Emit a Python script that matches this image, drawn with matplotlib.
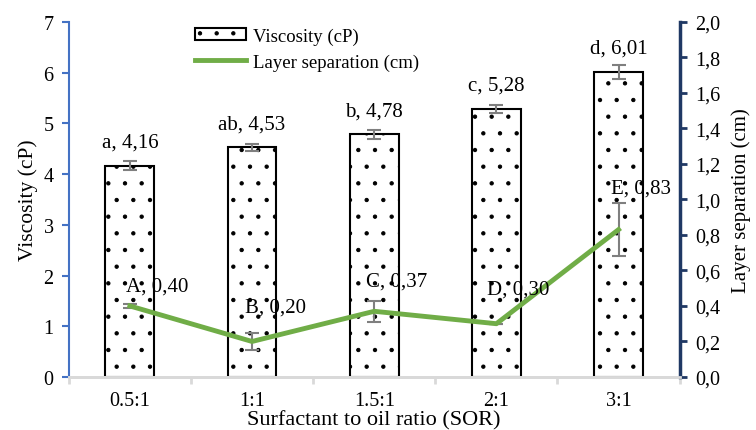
import matplotlib
matplotlib.use('Agg')
from matplotlib import pyplot as plt
import numpy as np

# data
ratios = ['0.5:1', '1:1', '1.5:1', '2:1', '3:1']
viscosity = [4.16, 4.53, 4.78, 5.28, 6.01]
viscosity_err = [0.09, 0.07, 0.08, 0.08, 0.13]
visc_letters = ['a', 'ab', 'b', 'c', 'd']
layer_sep = [0.40, 0.20, 0.37, 0.30, 0.83]
layer_sep_err = [0.01, 0.05, 0.06, 0.0, 0.15]
sep_letters = ['A', 'B', 'C', 'D', 'E']

# label offsets for the line points (points), placed by hand like in the original
sep_label_offsets = [(20, 14), (17, 25), (16, 22), (16, 25), (16, 30)]

plt.rcParams['font.family'] = ['Liberation Serif', 'DejaVu Serif']
plt.rcParams['hatch.linewidth'] = 0.7
fs = 14.5

def comma(v):
    return f'{v:.2f}'.replace('.', ',')

fig = plt.figure(figsize=(7.56, 4.31), dpi=100)
ax = fig.add_axes([0.091, 0.123, 0.808, 0.824])
ax2 = ax.twinx()

x = np.arange(len(ratios))
bars = ax.bar(x, viscosity, width=0.4, color='white', edgecolor='black',
              linewidth=1.5, hatch='.', label='Viscosity (cP)', zorder=2)
ax.errorbar(x, viscosity, yerr=viscosity_err, fmt='none', ecolor='#7f7f7f',
            elinewidth=1.5, capsize=5, capthick=1.5, zorder=3)
for xi, v, l in zip(x, viscosity, visc_letters):
    ax.annotate(f'{l}, {comma(v)}', (xi, v), xytext=(0, 17), textcoords='offset points',
                ha='center', va='center', fontsize=15)

line, = ax2.plot(x, layer_sep, color='#70ad47', linewidth=3.5, label='Layer separation (cm)',
                 zorder=4)
ax2.errorbar(x, layer_sep, yerr=layer_sep_err, fmt='none', ecolor='#7f7f7f',
             elinewidth=1.5, capsize=5, capthick=1.5, zorder=3)
for xi, v, l, off in zip(x, layer_sep, sep_letters, sep_label_offsets):
    ax2.annotate(f'{l}, {comma(v)}', (xi, v), xytext=off, textcoords='offset points',
                 ha='center', va='center', fontsize=15, zorder=5)

ax.set_xlim(-0.5, len(ratios) - 0.5)
ax.set_ylim(0, 7)
ax2.set_ylim(0, 2)
ax.set_yticks(range(0, 8))
ax2.set_yticks(np.arange(0, 2.01, 0.2))
ax2.set_yticklabels([comma(t)[:-1] for t in np.arange(0, 2.01, 0.2)])

ax.set_xticks(x)
ax.set_xticklabels(ratios, fontsize=fs)
ax.set_xticks(np.arange(-0.5, len(ratios), 1), minor=True)
ax.tick_params(axis='x', which='major', length=0, pad=10)
ax.tick_params(axis='x', which='minor', length=5, width=2, color='#d9d9d9')
ax.tick_params(axis='y', labelsize=fs, color='#4472c4', width=1.5, length=5, pad=6)
ax2.tick_params(axis='y', labelsize=fs, color='#1f3864', width=2, length=5, pad=6)

for a in (ax, ax2):
    a.spines['top'].set_visible(False)
    a.spines['bottom'].set_color('#d9d9d9')
    a.spines['bottom'].set_linewidth(2)
ax.spines['left'].set_color('#4472c4')
ax.spines['left'].set_linewidth(1.5)
ax.spines['right'].set_visible(False)
ax2.spines['left'].set_visible(False)
ax2.spines['right'].set_color('#1f3864')
ax2.spines['right'].set_linewidth(2.5)

ax.set_ylabel('Viscosity (cP)', fontsize=15.5, labelpad=4)
ax2.set_ylabel('Layer separation (cm)', fontsize=15, labelpad=8)
ax.set_xlabel('Surfactant to oil ratio (SOR)', fontsize=16, va='center')
ax.xaxis.set_label_coords(0.5, -0.121)

fig.legend(handles=[bars, line], loc='upper left', bbox_to_anchor=(0.236, 0.973),
           frameon=False, fontsize=13.5, handlelength=2.7, handleheight=0.65,
           labelspacing=0.45, handletextpad=0.4)

fig.savefig('out.png', dpi=100)
